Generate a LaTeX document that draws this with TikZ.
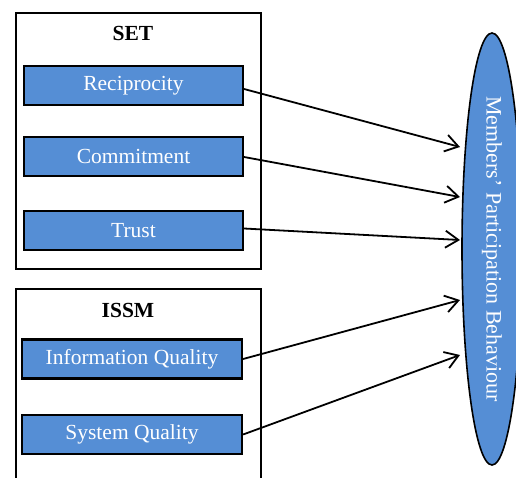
\documentclass[tikz,border=0pt]{standalone}
\usepackage{fontspec}
\setmainfont{Liberation Serif}
\usetikzlibrary{arrows.meta,shapes.geometric}
\definecolor{myblue}{RGB}{85,142,213}
\tikzset{
  blk/.style={draw=black, line width=2.2pt, fill=myblue, text=white, minimum height=39pt, inner sep=0pt, font=\fontsize{21.5}{24}\selectfont},
  grp/.style={draw=black, line width=1.6pt, inner sep=0pt},
  ttl/.style={font=\fontsize{21.5}{24}\selectfont\bfseries},
  conn/.style={line width=1.8pt, -{Straight Barb[length=13pt,width=17pt,line width=1.8pt]}},
  mpb/.style={ellipse, draw=black, line width=1.6pt, fill=myblue, text=white, inner sep=0pt, font=\fontsize{22}{24}\selectfont}
}
\begin{document}
\begin{tikzpicture}[x=1pt,y=-1pt]
\useasboundingbox (0,0) rectangle (516,477);
\clip (0,0) rectangle (516,477);
\node[grp, minimum width=245pt, minimum height=256pt] (set) at (138.5,141) {};
\node[ttl] (settitle) at (133,33) {SET};
\node[blk, minimum width=219pt] (rec) at (133.5,85.5) {Reciprocity};
\node[blk, minimum width=219pt] (com) at (133.5,156.5) {Commitment};
\node[blk, minimum width=219pt] (tru) at (133.5,230.5) {Trust};
\node[grp, minimum width=245pt, minimum height=231pt] (issm) at (138.5,404.5) {};
\node[ttl] (issmtitle) at (128,310) {ISSM};
\node[blk, minimum width=220pt] (inf) at (132,359) {Information Quality};
\node[blk, minimum width=220pt] (sys) at (132,434.5) {System Quality};
\node[mpb, rotate=-90, minimum width=432pt, minimum height=60pt] (beh) at (492,249) {\raisebox{3pt}{Members’ Participation Behaviour}};
\coordinate (e1) at (460,147);
\coordinate (e2) at (460,197);
\coordinate (e3) at (460,240);
\coordinate (e4) at (460,300);
\coordinate (e5) at (460,355);
\draw[conn] ([yshift=-3.5pt]rec.east) -- (e1);
\draw[conn] ([yshift=-0.5pt]com.east) -- (e2);
\draw[conn] ([yshift=2pt]tru.east) -- (e3);
\draw[conn] (inf.east) -- (e4);
\draw[conn] (sys.east) -- (e5);
\end{tikzpicture}
\end{document}
